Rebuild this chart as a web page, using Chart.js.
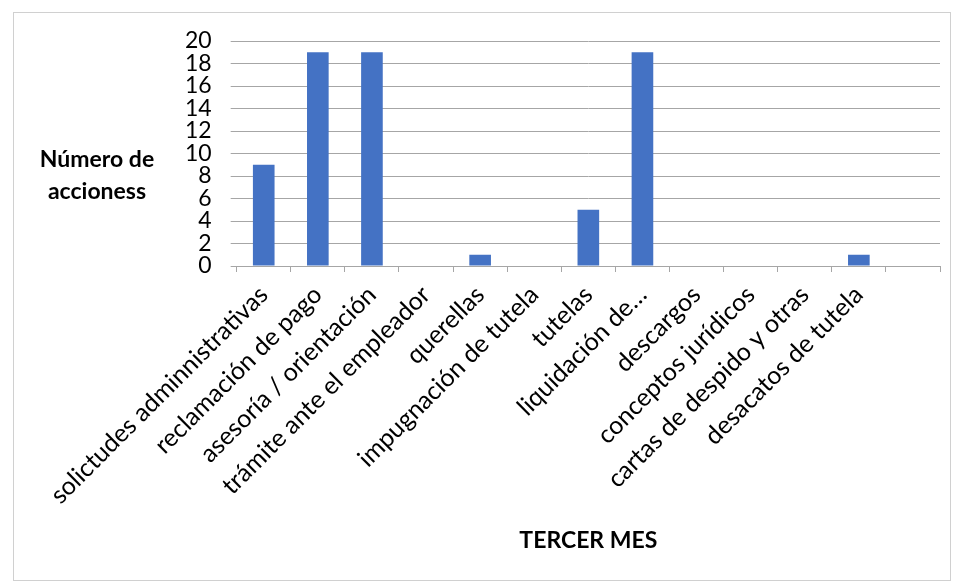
<!DOCTYPE html>
<html>
<head>
<meta charset="utf-8">
<script src="https://cdn.jsdelivr.net/npm/chart.js@4.4.1/dist/chart.umd.min.js"></script>
<style>
  html, body { margin: 0; padding: 0; background: #fff; }
  #wrap { position: relative; width: 960px; height: 584px; }
</style>
</head>
<body>
<div id="wrap"><canvas id="bar-chart"></canvas></div>
<script>
// categories and values (third month)
const categories = [
    'solictudes adminnistrativas',
    'reclamación de pago',
    'asesoría / orientación',
    'trámite ante el empleador',
    'querellas',
    'impugnación de tutela',
    'tutelas',
    'liquidación de…',
    'descargos',
    'conceptos jurídicos',
    'cartas de despido y otras',
    'desacatos de tutela',
    ''
];
const acciones = [9, 19, 19, 0, 1, 0, 5, 19, 0, 0, 0, 1, 0];
const yTitleLines = ['Número de', 'accioness'];
const xTitle = 'TERCER MES';

const fontFamily = 'Lato, "Open Sans", sans-serif';

// frame + horizontal y title
const extras = {
    id: 'extras',
    afterDraw(chart) {
        const ctx = chart.ctx;
        ctx.save();
        ctx.strokeStyle = '#d0d0d0';
        ctx.lineWidth = 1;
        ctx.strokeRect(13.5, 12.5, 937, 568);
        ctx.fillStyle = '#000';
        ctx.font = 'bold 23px ' + fontFamily;
        ctx.textAlign = 'center';
        ctx.textBaseline = 'middle';
        ctx.fillText(yTitleLines[0], 97, 160);
        ctx.fillText(yTitleLines[1], 97, 192);
        ctx.restore();
    }
};

const data1 = {
    labels: categories,
    datasets: [{
        label: xTitle,
        data: acciones,
        backgroundColor: '#4472C4',
        borderWidth: 0,
        categoryPercentage: 1,
        barPercentage: 0.4
    }]
};

const config1 = {
    type: 'bar',
    data: data1,
    options: {
        responsive: true,
        maintainAspectRatio: false,
        animation: false,
        layout: {
            padding: { left: 166, right: 20, top: 41, bottom: 30 }
        },
        plugins: {
            legend: { display: false },
            tooltip: { enabled: false }
        },
        scales: {
            x: {
                // rotated labels are taller than the default half-height cap
                afterFit(scale) {
                    scale.height = 288;
                },
                grid: {
                    drawOnChartArea: false,
                    drawTicks: true,
                    tickLength: 6,
                    color: '#a6a6a6'
                },
                border: { color: '#a6a6a6' },
                ticks: {
                    autoSkip: false,
                    maxRotation: 45,
                    minRotation: 45,
                    padding: 8,
                    color: '#000',
                    font: { family: fontFamily, size: 25 }
                },
                title: {
                    display: true,
                    text: xTitle,
                    color: '#000',
                    padding: { top: 0, bottom: 0 },
                    font: { family: fontFamily, size: 23, weight: 'bold' }
                }
            },
            y: {
                min: 0,
                max: 20,
                ticks: {
                    stepSize: 2,
                    autoSkip: false,
                    padding: 19,
                    color: '#000',
                    font: { family: fontFamily, size: 23 }
                },
                grid: {
                    color: '#a6a6a6',
                    tickLength: 6
                },
                border: { display: false }
            }
        }
    },
    plugins: [extras]
};

const barChartObj = new Chart(document.getElementById('bar-chart'), config1);
</script>
</body>
</html>
